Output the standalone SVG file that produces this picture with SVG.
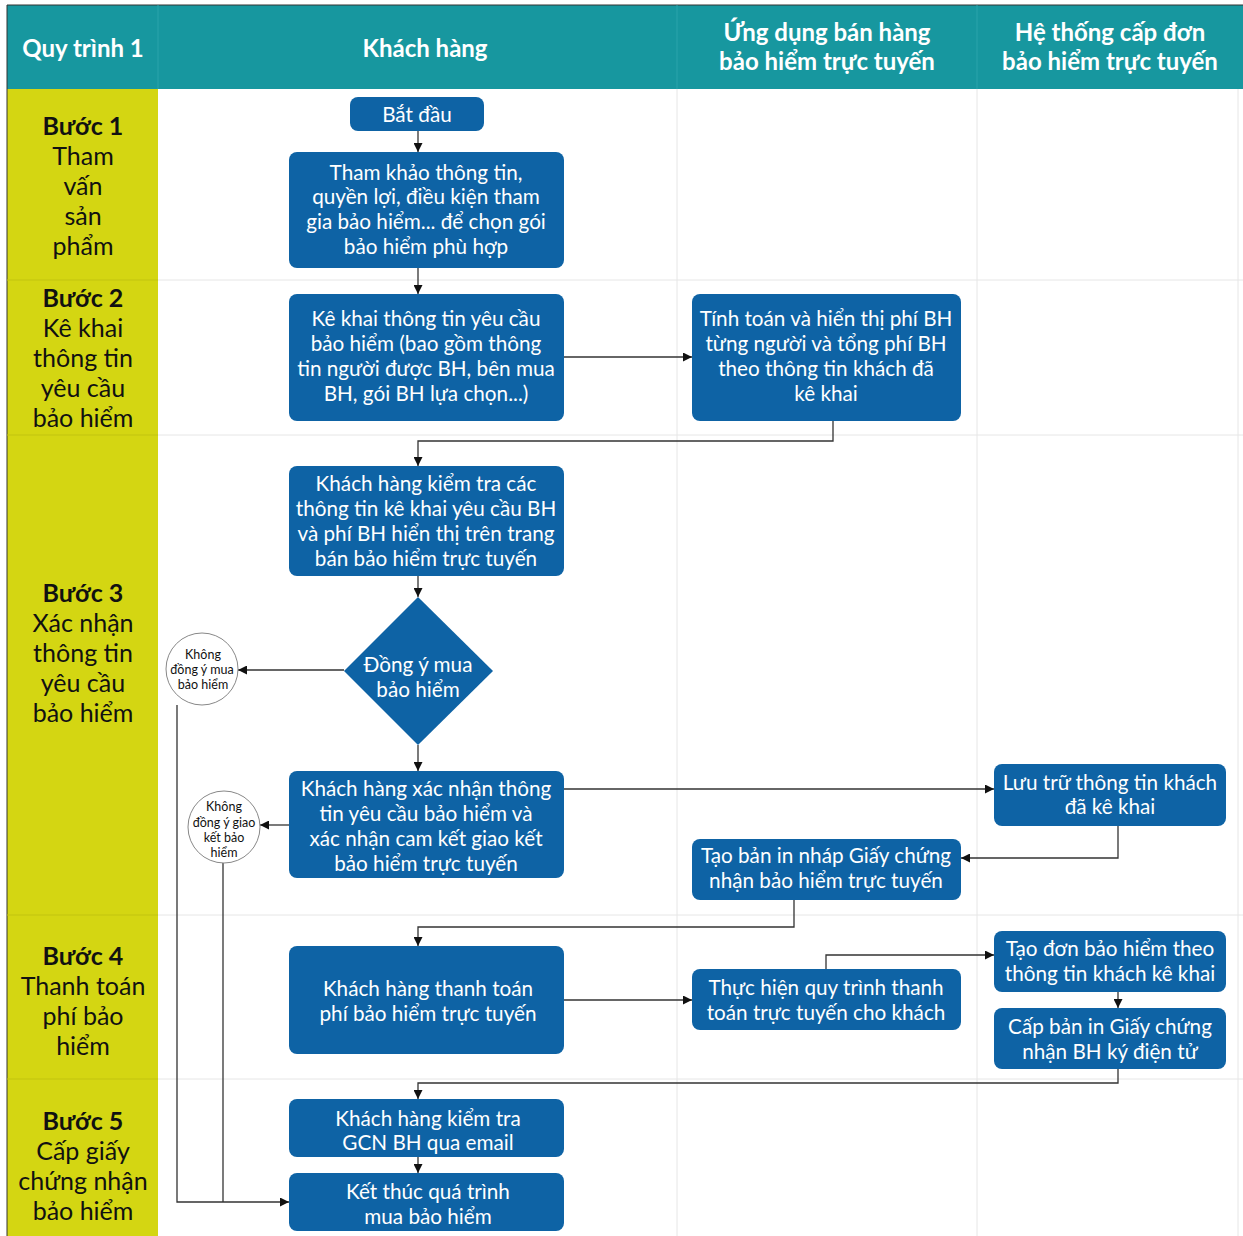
<svg xmlns="http://www.w3.org/2000/svg" width="1243" height="1236" viewBox="0 0 1243 1236">
<style>
.hdr{fill:#fff;font-family:Lato,"Noto Sans",sans-serif;font-weight:bold;font-size:24px;text-anchor:middle;dominant-baseline:central}
.step{fill:#111;font-family:Lato,"Noto Sans",sans-serif;font-size:25px;text-anchor:middle;dominant-baseline:central}
.stepb{font-weight:bold}
.box{fill:#0e63a5}
.t{fill:#fff;font-family:Lato,"Noto Sans",sans-serif;font-size:20.7px;text-anchor:middle;dominant-baseline:central}
.c{fill:#fff;stroke:#888;stroke-width:1}
.ct{fill:#111;font-family:Lato,"Noto Sans",sans-serif;font-size:12.5px;text-anchor:middle;dominant-baseline:central}
.grid{stroke:#e6e6e6;stroke-width:1;fill:none}
.ln{stroke:#333;stroke-width:1.3;fill:none}
</style>
<defs>
<marker id="ah" viewBox="0 0 10 10" refX="10" refY="5" markerWidth="9" markerHeight="9" markerUnits="userSpaceOnUse" orient="auto">
<path d="M0,0 L10,5 L0,10 z" fill="#111"/>
</marker>
</defs>
<rect x="0" y="0" width="1243" height="1236" fill="#fff"/>
<g id="lanes">
<rect x="7" y="5" width="1236" height="84" fill="#17979f"/>
<rect x="7" y="89" width="151" height="1147" fill="#d4d612"/>
<line x1="7" y1="5" x2="7" y2="1236" stroke="#333" stroke-width="1"/>
<line x1="7" y1="5" x2="1243" y2="5" stroke="#333" stroke-width="1"/>
<line class="grid" x1="158" y1="5" x2="158" y2="89" style="stroke:#2aa3ab"/>
<line class="grid" x1="677" y1="5" x2="677" y2="89" style="stroke:#2aa3ab"/>
<line class="grid" x1="977" y1="5" x2="977" y2="89" style="stroke:#2aa3ab"/>
<line class="grid" x1="677" y1="89" x2="677" y2="1236"/>
<line class="grid" x1="977" y1="89" x2="977" y2="1236"/>
<line class="grid" x1="1238" y1="89" x2="1238" y2="1236"/>
<line class="grid" x1="158" y1="280" x2="1243" y2="280"/>
<line class="grid" x1="158" y1="435" x2="1243" y2="435"/>
<line class="grid" x1="158" y1="915" x2="1243" y2="915"/>
<line class="grid" x1="158" y1="1079" x2="1243" y2="1079"/>
<line x1="7" y1="280" x2="158" y2="280" stroke="#c2c40f" stroke-width="1"/>
<line x1="7" y1="435" x2="158" y2="435" stroke="#c2c40f" stroke-width="1"/>
<line x1="7" y1="915" x2="158" y2="915" stroke="#c2c40f" stroke-width="1"/>
<line x1="7" y1="1079" x2="158" y2="1079" stroke="#c2c40f" stroke-width="1"/>
<text class="hdr" x="83" y="47">Quy trình 1</text>
<text class="hdr" x="425" y="47">Khách hàng</text>
<text class="hdr" x="827" y="31">Ứng dụng bán hàng</text>
<text class="hdr" x="827" y="60">bảo hiểm trực tuyến</text>
<text class="hdr" x="1110" y="31">Hệ thống cấp đơn</text>
<text class="hdr" x="1110" y="60">bảo hiểm trực tuyến</text>
<text class="step stepb" x="83" y="125">Bước 1</text>
<text class="step" x="83" y="155">Tham</text>
<text class="step" x="83" y="185">vấn</text>
<text class="step" x="83" y="215">sản</text>
<text class="step" x="83" y="245">phẩm</text>
<text class="step stepb" x="83" y="297">Bước 2</text>
<text class="step" x="83" y="327">Kê khai</text>
<text class="step" x="83" y="357">thông tin</text>
<text class="step" x="83" y="387">yêu cầu</text>
<text class="step" x="83" y="417">bảo hiểm</text>
<text class="step stepb" x="83" y="592">Bước 3</text>
<text class="step" x="83" y="622">Xác nhận</text>
<text class="step" x="83" y="652">thông tin</text>
<text class="step" x="83" y="682">yêu cầu</text>
<text class="step" x="83" y="712">bảo hiểm</text>
<text class="step stepb" x="83" y="955">Bước 4</text>
<text class="step" x="83" y="985">Thanh toán</text>
<text class="step" x="83" y="1015">phí bảo</text>
<text class="step" x="83" y="1045">hiểm</text>
<text class="step stepb" x="83" y="1120">Bước 5</text>
<text class="step" x="83" y="1150">Cấp giấy</text>
<text class="step" x="83" y="1180">chứng nhận</text>
<text class="step" x="83" y="1210">bảo hiểm</text>
</g>
<g id="connectors">
<path class="ln" d="M418,131 V152" marker-end="url(#ah)"/>
<path class="ln" d="M418,268 V294" marker-end="url(#ah)"/>
<path class="ln" d="M564,357 H692" marker-end="url(#ah)"/>
<path class="ln" d="M833,421 V441 H418 V466" marker-end="url(#ah)"/>
<path class="ln" d="M418,576 V597" marker-end="url(#ah)"/>
<path class="ln" d="M344,670 H238" marker-end="url(#ah)"/>
<path class="ln" d="M418,745 V771" marker-end="url(#ah)"/>
<path class="ln" d="M564,789 H994" marker-end="url(#ah)"/>
<path class="ln" d="M1118,826 V858 H961" marker-end="url(#ah)"/>
<path class="ln" d="M289,825 H260" marker-end="url(#ah)"/>
<path class="ln" d="M794,900 V927 H418 V946" marker-end="url(#ah)"/>
<path class="ln" d="M564,1000 H692" marker-end="url(#ah)"/>
<path class="ln" d="M826,969 V955 H994" marker-end="url(#ah)"/>
<path class="ln" d="M1118,992 V1008" marker-end="url(#ah)"/>
<path class="ln" d="M1118,1069 V1083 H418 V1099" marker-end="url(#ah)"/>
<path class="ln" d="M418,1157 V1173" marker-end="url(#ah)"/>
<path class="ln" d="M177,705 V1202 H289" marker-end="url(#ah)"/>
<path class="ln" d="M223,863 V1202"/>
</g>
<g id="n-start"><rect class="box" x="350" y="97" width="134" height="34" rx="8"/><text class="t" x="417" y="114">Bắt đầu</text></g>
<g id="n-thamkhao"><rect class="box" x="289" y="152" width="275" height="116" rx="8"/>
<text class="t" x="426" y="172">Tham khảo thông tin,</text>
<text class="t" x="426" y="196">quyền lợi, điều kiện tham</text>
<text class="t" x="426" y="221">gia bảo hiểm... để chọn gói</text>
<text class="t" x="426" y="246">bảo hiểm phù hợp</text></g>
<g id="n-kekhai"><rect class="box" x="289" y="294" width="275" height="127" rx="8"/>
<text class="t" x="426" y="318">Kê khai thông tin yêu cầu</text>
<text class="t" x="426" y="343">bảo hiểm (bao gồm thông</text>
<text class="t" x="426" y="368">tin người được BH, bên mua</text>
<text class="t" x="426" y="393">BH, gói BH lựa chọn...)</text></g>
<g id="n-tinhtoan"><rect class="box" x="692" y="294" width="269" height="127" rx="8"/>
<text class="t" x="826" y="318">Tính toán và hiển thị phí BH</text>
<text class="t" x="826" y="343">từng người và tổng phí BH</text>
<text class="t" x="826" y="368">theo thông tin khách đã</text>
<text class="t" x="826" y="393">kê khai</text></g>
<g id="n-kiemtra"><rect class="box" x="289" y="466" width="275" height="110" rx="8"/>
<text class="t" x="426" y="483">Khách hàng kiểm tra các</text>
<text class="t" x="426" y="508">thông tin kê khai yêu cầu BH</text>
<text class="t" x="426" y="533">và phí BH hiển thị trên trang</text>
<text class="t" x="426" y="558">bán bảo hiểm trực tuyến</text></g>
<g id="n-dongy"><polygon class="box" points="418,597 493,671 418,745 344,671"/>
<text class="t" x="418" y="664">Đồng ý mua</text>
<text class="t" x="418" y="689">bảo hiểm</text></g>
<g id="n-khong1"><circle class="c" cx="202" cy="669" r="36"/>
<text class="ct" x="203" y="654">Không</text>
<text class="ct" x="202" y="669">đồng ý mua</text>
<text class="ct" x="203" y="684">bảo hiểm</text></g>
<g id="n-xacnhan"><rect class="box" x="289" y="771" width="275" height="107" rx="8"/>
<text class="t" x="426" y="788">Khách hàng xác nhận thông</text>
<text class="t" x="426" y="813">tin yêu cầu bảo hiểm và</text>
<text class="t" x="426" y="838">xác nhận cam kết giao kết</text>
<text class="t" x="426" y="863">bảo hiểm trực tuyến</text></g>
<g id="n-khong2"><circle class="c" cx="224" cy="827" r="36"/>
<text class="ct" x="224" y="806">Không</text>
<text class="ct" x="224" y="822">đồng ý giao</text>
<text class="ct" x="224" y="837">kết bảo</text>
<text class="ct" x="224" y="852">hiểm</text></g>
<g id="n-luutru"><rect class="box" x="994" y="764" width="232" height="62" rx="8"/>
<text class="t" x="1110" y="782">Lưu trữ thông tin khách</text>
<text class="t" x="1110" y="806">đã kê khai</text></g>
<g id="n-nhap"><rect class="box" x="692" y="839" width="269" height="61" rx="8"/>
<text class="t" x="826" y="855">Tạo bản in nháp Giấy chứng</text>
<text class="t" x="826" y="880">nhận bảo hiểm trực tuyến</text></g>
<g id="n-thanhtoan"><rect class="box" x="289" y="946" width="275" height="108" rx="8"/>
<text class="t" x="428" y="988">Khách hàng thanh toán</text>
<text class="t" x="428" y="1013">phí bảo hiểm trực tuyến</text></g>
<g id="n-thuchien"><rect class="box" x="692" y="969" width="269" height="61" rx="8"/>
<text class="t" x="826" y="987">Thực hiện quy trình thanh</text>
<text class="t" x="826" y="1012">toán trực tuyến cho khách</text></g>
<g id="n-taodon"><rect class="box" x="994" y="931" width="232" height="61" rx="8"/>
<text class="t" x="1110" y="948">Tạo đơn bảo hiểm theo</text>
<text class="t" x="1110" y="973">thông tin khách kê khai</text></g>
<g id="n-capban"><rect class="box" x="994" y="1008" width="232" height="61" rx="8"/>
<text class="t" x="1110" y="1026">Cấp bản in Giấy chứng</text>
<text class="t" x="1110" y="1051">nhận BH ký điện tử</text></g>
<g id="n-gcn"><rect class="box" x="289" y="1099" width="275" height="58" rx="8"/>
<text class="t" x="428" y="1118">Khách hàng kiểm tra</text>
<text class="t" x="428" y="1142">GCN BH qua email</text></g>
<g id="n-ketthuc"><rect class="box" x="289" y="1173" width="275" height="58" rx="8"/>
<text class="t" x="428" y="1191">Kết thúc quá trình</text>
<text class="t" x="428" y="1216">mua bảo hiểm</text></g>
</svg>
